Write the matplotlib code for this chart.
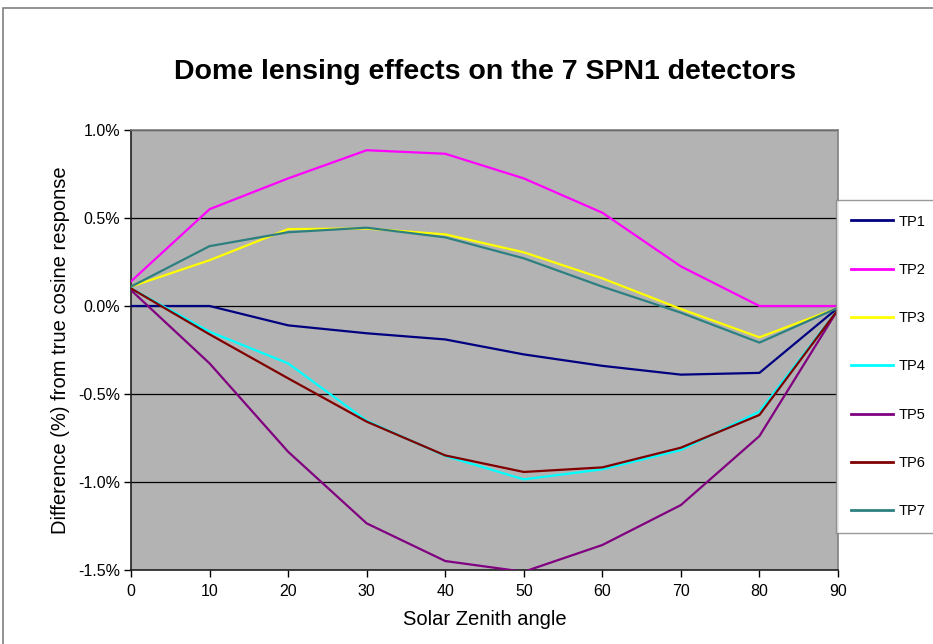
import matplotlib
matplotlib.use("Agg")
import matplotlib.pyplot as plt
from matplotlib.ticker import FuncFormatter, MultipleLocator
from matplotlib.patches import Rectangle

plt.rcParams['font.family'] = ['Liberation Sans', 'DejaVu Sans']

angles = [0, 10, 20, 30, 40, 50, 60, 70, 80, 90]
tp1 = [0.00, 0.00, -0.11, -0.155, -0.19, -0.275, -0.34, -0.39, -0.38, -0.01]
tp2 = [0.14, 0.55, 0.725, 0.885, 0.865, 0.725, 0.53, 0.225, 0.00, 0.00]
tp3 = [0.11, 0.26, 0.437, 0.44, 0.407, 0.305, 0.157, -0.017, -0.178, -0.01]
tp4 = [0.10, -0.146, -0.326, -0.652, -0.852, -0.985, -0.928, -0.818, -0.60, -0.02]
tp5 = [0.09, -0.326, -0.828, -1.235, -1.449, -1.51, -1.358, -1.131, -0.739, -0.02]
tp6 = [0.10, -0.161, -0.411, -0.657, -0.849, -0.943, -0.917, -0.805, -0.619, -0.02]
tp7 = [0.11, 0.34, 0.419, 0.445, 0.39, 0.271, 0.11, -0.038, -0.208, -0.01]

series = [("TP1", tp1, "#000080"), ("TP2", tp2, "#FF00FF"), ("TP3", tp3, "#FFFF00"),
          ("TP4", tp4, "#00FFFF"), ("TP5", tp5, "#800080"), ("TP6", tp6, "#800000"),
          ("TP7", tp7, "#2E8080")]

W, H = 933, 644
fig = plt.figure(figsize=(W/100, H/100), dpi=100)
fig.patch.set_facecolor("white")

# outer chart border
fig.patches.append(Rectangle((3/W, -0.1), 1.2, 1 - 8/H + 0.1, transform=fig.transFigure,
                             fill=False, edgecolor="#808080", linewidth=1.2))

ax = fig.add_axes([131/W, 1 - 570/H, (838-131)/W, (570-130)/H])
ax.set_facecolor("#B3B3B3")

for name, vals, col in series:
    ax.plot(angles, vals, color=col, linewidth=1.6, label=name, zorder=3)

ax.set_xlim(0, 90)
ax.set_ylim(-1.5, 1.0)
ax.xaxis.set_major_locator(MultipleLocator(10))
ax.yaxis.set_major_locator(MultipleLocator(0.5))
ax.yaxis.set_major_formatter(FuncFormatter(lambda v, p: f"{v:.1f}%"))
ax.grid(axis='y', color='black', linewidth=0.9, zorder=1)
ax.set_axisbelow(True)
ax.tick_params(axis='both', direction='out', length=5, width=1, labelsize=11.5, color='black', pad=3)
ax.tick_params(axis='x', pad=5)

for s in ['left', 'bottom']:
    ax.spines[s].set_color('#202020')
    ax.spines[s].set_linewidth(1.2)
for s in ['top', 'right']:
    ax.spines[s].set_color('#808080')
    ax.spines[s].set_linewidth(1.2)

ax.set_xlabel("Solar Zenith angle", fontsize=14.5, labelpad=8)
ax.set_ylabel("Difference (%) from true cosine response", fontsize=14.5, labelpad=6)

fig.text((131+838)/2/W, 1 - 72/H, "Dome lensing effects on the 7 SPN1 detectors",
         ha='center', va='center', fontsize=20.5, fontweight='bold')

leg = fig.legend(loc='upper left', bbox_to_anchor=(836/W, 1 - 200/H), frameon=True,
                 fancybox=False, edgecolor='#808080', fontsize=10.5, labelspacing=2.35,
                 handlelength=2.9, handletextpad=0.4, borderpad=1.0, borderaxespad=0)
leg.get_frame().set_linewidth(1.0)
for line in leg.get_lines():
    line.set_linewidth(2)

fig.savefig("out.png", dpi=100)
